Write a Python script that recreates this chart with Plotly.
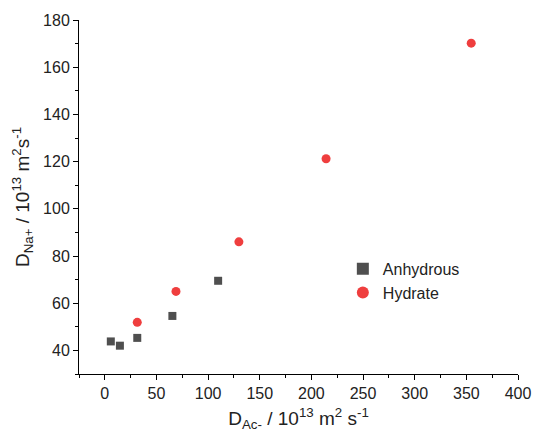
import plotly.graph_objects as go

anhydrous_x = [5.8, 14.6, 31.4, 65.4, 109.7]
anhydrous_y = [43.8, 42.0, 45.3, 54.6, 69.5]
hydrate_x = [31.4, 68.9, 129.8, 214.2, 354.7]
hydrate_y = [51.9, 65.0, 86.0, 121.2, 170.2]

fig = go.Figure()
fig.add_trace(go.Scatter(x=anhydrous_x, y=anhydrous_y, mode="markers", name="Anhydrous",
                         marker=dict(symbol="square", size=8, color="#4f4f4f")))
fig.add_trace(go.Scatter(x=hydrate_x, y=hydrate_y, mode="markers", name="Hydrate",
                         marker=dict(symbol="circle", size=9, color="#ef3e3e")))

axis_common = dict(showline=True, linecolor="black", linewidth=1, ticks="outside",
                   ticklen=5, tickwidth=1, tickcolor="black", showgrid=False, zeroline=False,
                   automargin=False,
                   tickfont=dict(family="Liberation Sans, Arial", size=16, color="#222"),
                   minor=dict(ticks="outside", ticklen=3, tickcolor="black", showgrid=False))

fig.update_layout(
    width=533, height=437,
    margin=dict(l=79, r=15, t=20, b=63),
    plot_bgcolor="white", paper_bgcolor="white",
    font=dict(family="Liberation Sans, Arial", size=16, color="#222"),
    xaxis=dict(range=[-25, 400], tickmode="array", tickvals=[0, 50, 100, 150, 200, 250, 300, 350, 400],
               title=dict(text="D<sub>Ac-</sub> / 10<sup>13</sup> m<sup>2</sup> s<sup>-1</sup>",
                          font=dict(size=19), standoff=10),
               **axis_common),
    yaxis=dict(range=[30, 180], tickmode="array", tickvals=[40, 60, 80, 100, 120, 140, 160, 180],
               title=dict(text="D<sub>Na+</sub> / 10<sup>13</sup> m<sup>2</sup>s<sup>-1</sup>",
                          font=dict(size=19), standoff=8),
               **axis_common),
    legend=dict(x=0.601, y=0.345, xanchor="left", yanchor="top", bgcolor="rgba(0,0,0,0)",
                font=dict(size=16), itemsizing="constant", tracegroupgap=0),
)
fig.update_xaxes(minor=dict(dtick=25, tick0=0))
fig.update_yaxes(minor=dict(dtick=10, tick0=0))

# remove the page's default body margin so the figure fills the window exactly
fig.write_html("out.html", config={"displayModeBar": False},
               post_script="document.body.style.margin='0';document.body.style.overflow='hidden';")
